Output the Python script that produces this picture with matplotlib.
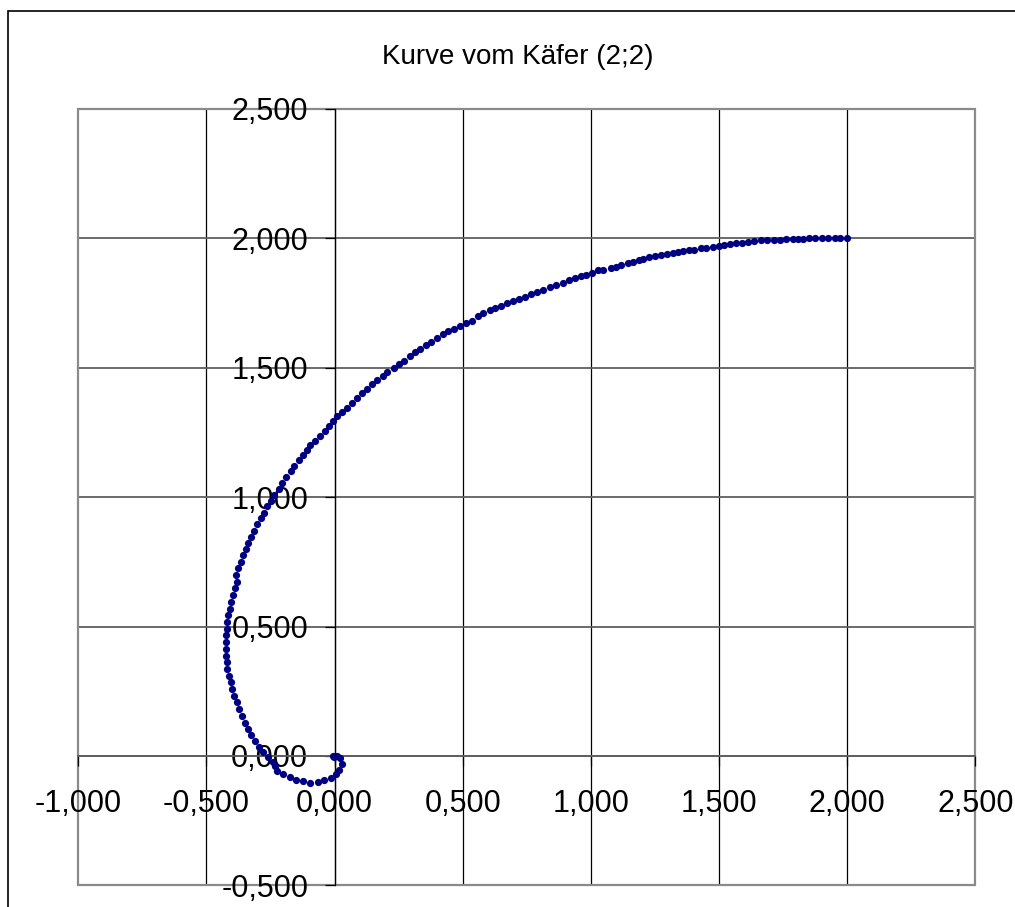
import matplotlib
matplotlib.use("Agg")
from matplotlib import pyplot as plt
from matplotlib.patches import Rectangle

plt.rcParams["font.family"] = ["Liberation Sans", "DejaVu Sans"]

title = "Kurve vom Käfer (2;2)"

# beetle positions, read along the path from the start (2;2) to the origin
xs = [2.000, 1.974, 1.951, 1.926, 1.900, 1.874, 1.851, 1.829, 1.809, 1.789,
      1.760, 1.737, 1.715, 1.689, 1.663, 1.637, 1.614, 1.591, 1.566, 1.542,
      1.518, 1.498, 1.475, 1.449, 1.430, 1.404, 1.384, 1.361, 1.339, 1.319,
      1.297, 1.274, 1.252, 1.228, 1.205, 1.187, 1.163, 1.144, 1.118, 1.099,
      1.079, 1.047, 1.027, 1.005, 0.982, 0.963, 0.937, 0.914, 0.891, 0.865,
      0.839, 0.813, 0.788, 0.768, 0.742, 0.720, 0.697, 0.671, 0.651, 0.625,
      0.606, 0.580, 0.560, 0.535, 0.512, 0.489, 0.466, 0.444, 0.424, 0.401,
      0.375, 0.357, 0.333, 0.314, 0.295, 0.271, 0.253, 0.230, 0.206, 0.188,
      0.167, 0.146, 0.126, 0.107, 0.087, 0.068, 0.048, 0.029, 0.009, -0.006,
      -0.023, -0.039, -0.056, -0.075, -0.095, -0.107, -0.123, -0.140, -0.157, -0.172,
      -0.188, -0.205, -0.218, -0.235, -0.250, -0.263, -0.276, -0.289, -0.302, -0.315,
      -0.325, -0.339, -0.347, -0.358, -0.367, -0.377, -0.386, -0.382, -0.390, -0.397,
      -0.403, -0.409, -0.414, -0.419, -0.421, -0.424, -0.424, -0.424, -0.423, -0.420,
      -0.418, -0.412, -0.406, -0.399, -0.391, -0.382, -0.374, -0.363, -0.351, -0.339,
      -0.325, -0.311, -0.296, -0.279, -0.261, -0.242, -0.233, -0.224, -0.201, -0.175,
      -0.149, -0.123, -0.095, -0.066, -0.040, -0.014, 0.007, 0.019, 0.029, 0.022,
      0.009, -0.006, -0.004]
ys = [2.000, 2.000, 2.000, 2.000, 2.000, 2.000, 2.000, 1.999, 1.999, 1.998,
      1.996, 1.995, 1.995, 1.994, 1.992, 1.988, 1.987, 1.984, 1.981, 1.977,
      1.973, 1.969, 1.968, 1.964, 1.961, 1.956, 1.955, 1.952, 1.947, 1.944,
      1.939, 1.936, 1.932, 1.928, 1.921, 1.917, 1.910, 1.904, 1.897, 1.891,
      1.885, 1.877, 1.876, 1.867, 1.860, 1.855, 1.846, 1.839, 1.829, 1.821,
      1.811, 1.802, 1.792, 1.785, 1.775, 1.766, 1.758, 1.749, 1.740, 1.731,
      1.722, 1.710, 1.701, 1.682, 1.673, 1.662, 1.650, 1.641, 1.629, 1.616,
      1.600, 1.587, 1.572, 1.559, 1.544, 1.528, 1.514, 1.499, 1.484, 1.468,
      1.453, 1.436, 1.419, 1.401, 1.384, 1.362, 1.346, 1.330, 1.313, 1.294,
      1.274, 1.255, 1.235, 1.216, 1.203, 1.184, 1.164, 1.145, 1.122, 1.100,
      1.078, 1.055, 1.032, 1.009, 0.987, 0.964, 0.940, 0.919, 0.895, 0.871,
      0.847, 0.824, 0.800, 0.776, 0.750, 0.725, 0.699, 0.673, 0.647, 0.621,
      0.595, 0.569, 0.543, 0.517, 0.492, 0.466, 0.440, 0.414, 0.388, 0.362,
      0.337, 0.310, 0.284, 0.259, 0.233, 0.207, 0.181, 0.155, 0.129, 0.104,
      0.080, 0.058, 0.036, 0.016, -0.004, -0.022, -0.040, -0.058, -0.069, -0.082,
      -0.092, -0.097, -0.104, -0.101, -0.094, -0.084, -0.071, -0.056, -0.032, -0.009,
      0.000, 0.000, -0.006]

xticks = [-1.0, -0.5, 0.0, 0.5, 1.0, 1.5, 2.0, 2.5]
xlabels = ["-1,000", "-0,500", "0,000", "0,500", "1,000", "1,500", "2,000", "2,500"]
yticks = [-0.5, 0.0, 0.5, 1.0, 1.5, 2.0, 2.5]
ylabels = ["-0,500", "0,000", "0,500", "1,000", "1,500", "2,000", "2,500"]

fig = plt.figure(figsize=(10.15, 9.07), dpi=100)
fig.patches.append(Rectangle((8 / 1015, -0.1), 2, 1.1 - 11 / 907, transform=fig.transFigure,
                             fill=False, edgecolor="black", linewidth=1.2))
fig.text(518 / 1015, 1 - 64 / 907, title, ha="center", va="baseline", fontsize=20)

ax = fig.add_axes([78.3 / 1015, 1 - 885.3 / 907, 897 / 1015, 776.3 / 907])
ax.set_xlim(xticks[0], xticks[-1])
ax.set_ylim(yticks[0], yticks[-1])

# grid: black verticals, grey horizontals, grey frame
for v in xticks[1:-1]:
    ax.axvline(v, color="black", linewidth=0.9, zorder=1)
for v in yticks[1:-1]:
    ax.axhline(v, color="#5f5f5f", linewidth=1.3, zorder=1)
ax.add_patch(Rectangle((0, 0), 1, 1, transform=ax.transAxes, fill=False,
                       edgecolor="#8a8a8a", linewidth=1.6, zorder=1, clip_on=False))

# axes cross at the origin
for side in ["top", "right"]:
    ax.spines[side].set_visible(False)
ax.spines["left"].set_position(("data", 0))
ax.spines["bottom"].set_position(("data", 0))
ax.spines["left"].set_color("black")
ax.spines["left"].set_linewidth(0.9)
ax.spines["bottom"].set_color("#5f5f5f")
ax.spines["bottom"].set_linewidth(1.3)

ax.set_xticks(xticks)
ax.set_xticklabels(xlabels)
ax.set_yticks(yticks)
ax.set_yticklabels(ylabels)
ax.tick_params(axis="x", direction="out", length=7, width=0.9, pad=17, labelsize=22)
ax.tick_params(axis="y", direction="out", length=7, width=0.9, pad=12, labelsize=22)

ax.plot(xs, ys, "o", linestyle="none", color="#000080", markersize=5.2,
        markeredgewidth=0, zorder=3, clip_on=False)

fig.savefig("out.png", dpi=100)
